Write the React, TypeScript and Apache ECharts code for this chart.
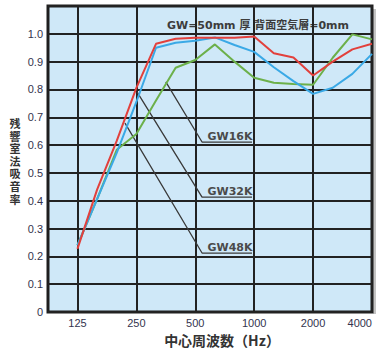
import React, { useEffect, useRef } from 'react';
import * as echarts from 'echarts';

// octave tick labels (x axis)
const tickLabels = ['125', '250', '500', '1000', '2000', '4000'];
// 1/3-octave band centre frequencies (Hz) where the curves are sampled
const bands = [125, 160, 200, 250, 315, 400, 500, 630, 800, 1000, 1250, 1600, 2000, 2500, 3150, 4000];

// absorption coefficients
const redValues = [0.227, 0.44, 0.615, 0.806, 0.964, 0.982, 0.986, 0.986, 0.986, 0.99, 0.93, 0.915, 0.85, 0.9, 0.944, 0.964];
const blueValues = [0.24, 0.406, 0.572, 0.755, 0.95, 0.968, 0.975, 0.987, 0.96, 0.935, 0.88, 0.83, 0.784, 0.806, 0.856, 0.928];
const greenValues = [0.24, 0.406, 0.583, 0.64, 0.76, 0.878, 0.906, 0.962, 0.9, 0.842, 0.824, 0.82, 0.817, 0.914, 0.998, 0.98];

// y tick values
const yTicks = [0, 0.1, 0.2, 0.3, 0.4, 0.5, 0.6, 0.7, 0.8, 0.9, 1.0];

// leader lines for labels, in axis units (octave index, absorption)
const leader16 = [[1.5, 0.827], [2.115, 0.611], [2.963, 0.611]];
const leader32 = [[1.011, 0.791], [2.115, 0.413], [2.963, 0.413]];
const leader48 = [[0.807, 0.679], [2.115, 0.212], [2.963, 0.212]];

const yTitle = '残響室法吸音率';

const toPoints = (vals: number[]) => vals.map((v, i) => [i / 3, v]);

export default function App() {
  const ref = useRef<HTMLDivElement>(null);
  useEffect(() => {
    if (!ref.current) return;
    const chart = echarts.init(ref.current, null, { renderer: 'svg' });
    const tickIdx = tickLabels.map((_, i) => i);
    const lineStyleLeader = { color: '#3a3a3a', width: 1.3 };
    const leaderSeries = (d: number[][]) => ({
      type: 'line',
      data: d,
      symbol: 'none',
      silent: true,
      lineStyle: lineStyleLeader,
      z: 1,
    });
    const labelFont = { fontFamily: 'DejaVu Sans', fontSize: 11, fontWeight: 'bold', fill: '#4a4a4a' };
    const yTitleChars = yTitle.split('').map((ch, i) => ({
      type: 'text',
      x: 15,
      y: 123 + i * 12.6,
      style: {
        text: ch,
        fontFamily: 'Noto Sans CJK JP',
        fontSize: 11,
        lineHeight: 12,
        fontWeight: 'bold',
        fill: '#333',
        align: 'center',
        verticalAlign: 'middle',
      },
    }));
    chart.setOption({
      animation: false,
      grid: {
        left: 48,
        right: 6,
        top: 6,
        bottom: 37,
        show: true,
        backgroundColor: '#cfe8f8',
        borderColor: '#1e1e1e',
        borderWidth: 3,
      },
      xAxis: {
        type: 'value',
        min: -0.5,
        max: 5,
        axisLine: { show: false },
        axisTick: { show: false, customValues: tickIdx },
        axisLabel: {
          customValues: tickIdx,
          formatter: (v: number) => tickLabels[Math.round(v)] ?? '',
          color: '#34344e',
          fontSize: 11,
          fontFamily: 'Liberation Sans',
          margin: 5,
          alignMaxLabel: 'right',
        },
        splitLine: { show: true, lineStyle: { color: '#222', width: 2 } },
      },
      yAxis: {
        type: 'value',
        min: 0,
        max: 1.1,
        interval: 0.1,
        axisLine: { show: false },
        axisTick: { show: false },
        axisLabel: {
          formatter: (v: number) => {
            const t = yTicks.find((x) => Math.abs(x - v) < 1e-6);
            if (t === undefined) return '';
            return t === 0 ? '0' : t.toFixed(1);
          },
          color: '#34344e',
          fontSize: 11,
          fontFamily: 'Liberation Sans',
          margin: 5,
        },
        splitLine: { show: true, lineStyle: { color: '#222', width: 2 } },
      },
      series: [
        leaderSeries(leader16),
        leaderSeries(leader32),
        leaderSeries(leader48),
        {
          name: 'GW16K',
          type: 'line',
          data: toPoints(greenValues),
          symbol: 'none',
          lineStyle: { color: '#6cb04a', width: 2 },
          z: 2,
        },
        {
          name: 'GW32K',
          type: 'line',
          data: toPoints(blueValues),
          symbol: 'none',
          lineStyle: { color: '#3aa9e6', width: 2 },
          z: 3,
        },
        {
          name: 'GW48K',
          type: 'line',
          data: toPoints(redValues),
          symbol: 'none',
          lineStyle: { color: '#e2403c', width: 2 },
          z: 4,
        },
      ],
      graphic: [
        {
          type: 'rect',
          shape: { x: 373, y: 9, width: 3, height: 305 },
          style: { fill: '#c4c4c4' },
          z: -1,
        },
        {
          type: 'text',
          x: 258,
          y: 25,
          style: {
            text: 'GW=50mm 厚 背面空気層=0mm',
            fontFamily: 'DejaVu Sans, Noto Sans CJK JP',
            fontSize: 11,
            fontWeight: 'bold',
            fill: '#3c3c3c',
            align: 'center',
            verticalAlign: 'middle',
          },
        },
        {
          type: 'text',
          x: 230,
          y: 136,
          style: { text: 'GW16K', align: 'center', verticalAlign: 'middle', ...labelFont },
        },
        {
          type: 'text',
          x: 230,
          y: 191,
          style: { text: 'GW32K', align: 'center', verticalAlign: 'middle', ...labelFont },
        },
        {
          type: 'text',
          x: 230,
          y: 247,
          style: { text: 'GW48K', align: 'center', verticalAlign: 'middle', ...labelFont },
        },
        ...yTitleChars,
        {
          type: 'text',
          x: 222,
          y: 340,
          style: {
            text: '中心周波数（Hz）',
            fontFamily: 'Noto Sans CJK JP',
            fontSize: 14,
            fontWeight: 'bold',
            fill: '#333',
            align: 'center',
            verticalAlign: 'middle',
          },
        },
      ],
    });
    return () => chart.dispose();
  }, []);
  return (
    <div
      ref={ref}
      style={{ position: 'fixed', left: 0, top: 0, width: 378, height: 349, background: '#fff' }}
    />
  );
}
